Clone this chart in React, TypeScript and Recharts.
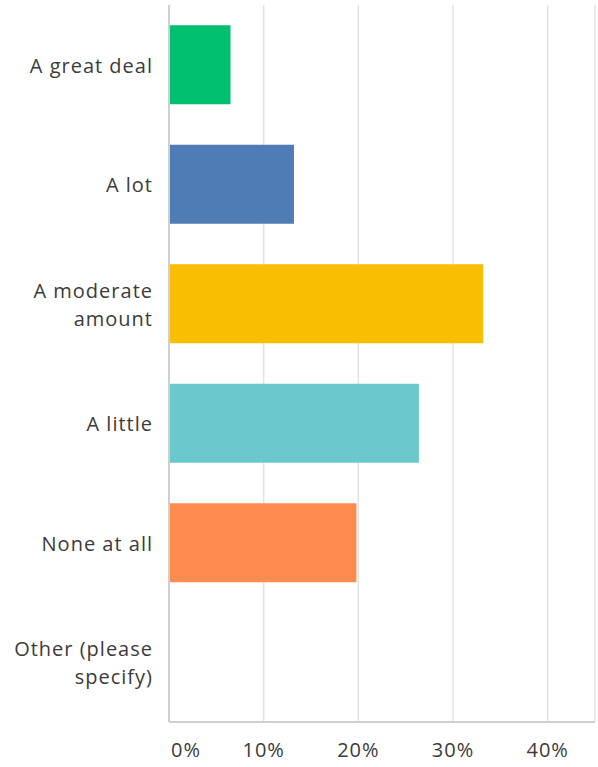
import React from 'react';
import { BarChart, Bar, XAxis, YAxis, CartesianGrid, Cell } from 'recharts';

const categories = [
  'A great deal',
  'A lot',
  'A moderate amount',
  'A little',
  'None at all',
  'Other (please specify)',
];
const percents = [6.5, 13.2, 33.2, 26.4, 19.8, 0];
const barColors = ['#00bf6f', '#507cb6', '#f9be00', '#6bc8cd', '#ff8b4f', '#ac8dbf'];
const xTicks = [0, 10, 20, 30, 40];

const data = categories.map((name, i) => ({ name, value: percents[i] }));

const FONT = '"Open Sans", "Noto Sans", sans-serif';
const TEXT = '#3b3b3b';

// greedy word wrap, keeps labels to ~13 chars per line
function wrap(label: string, max = 13): string[] {
  const lines: string[] = [];
  let cur = '';
  label.split(' ').forEach((w) => {
    const next = cur ? cur + ' ' + w : w;
    if (next.length > max && cur) {
      lines.push(cur);
      cur = w;
    } else {
      cur = next;
    }
  });
  if (cur) lines.push(cur);
  return lines;
}

const CategoryTick = (props: any) => {
  const { x, y, payload } = props;
  const lines = wrap(payload.value);
  const lh = 28;
  const start = -((lines.length - 1) * lh) / 2;
  return (
    <text
      x={x - 8}
      y={y}
      textAnchor="end"
      fill={TEXT}
      fontSize={20}
      letterSpacing={1}
      fontFamily={FONT}
    >
      {lines.map((l, i) => (
        <tspan key={i} x={x - 8} dy={i === 0 ? start + 8 : lh}>
          {l}
        </tspan>
      ))}
    </text>
  );
};

const PercentTick = (props: any) => {
  const { x, y, payload, index } = props;
  const first = index === 0;
  return (
    <text
      x={first ? x + 2 : x}
      y={y + 27}
      textAnchor={first ? 'start' : 'middle'}
      fill={TEXT}
      fontSize={20}
      letterSpacing={1}
      fontFamily={FONT}
    >
      {payload.value + '%'}
    </text>
  );
};

export default function App() {
  return (
    <div style={{ position: 'absolute', left: 0, top: 0, background: '#fff' }}>
      <BarChart
        width={598}
        height={767}
        data={data}
        layout="vertical"
        margin={{ top: 5, right: 3, left: 0, bottom: 0 }}
        barCategoryGap="17%"
      >
        <CartesianGrid horizontal={false} stroke="#e3e3e3" strokeWidth={1.5} />
        <XAxis
          type="number"
          domain={[0, 45]}
          ticks={xTicks}
          axisLine={{ stroke: '#cfcfcf', strokeWidth: 2 }}
          tickLine={false}
          tick={<PercentTick />}
          height={45}
          interval={0}
        />
        <YAxis
          type="category"
          dataKey="name"
          width={169}
          axisLine={{ stroke: '#cfcfcf', strokeWidth: 2 }}
          tickLine={false}
          tick={<CategoryTick />}
          interval={0}
        />
        <Bar dataKey="value" isAnimationActive={false}>
          {data.map((d, i) => (
            <Cell key={d.name} fill={barColors[i]} />
          ))}
        </Bar>
      </BarChart>
    </div>
  );
}
